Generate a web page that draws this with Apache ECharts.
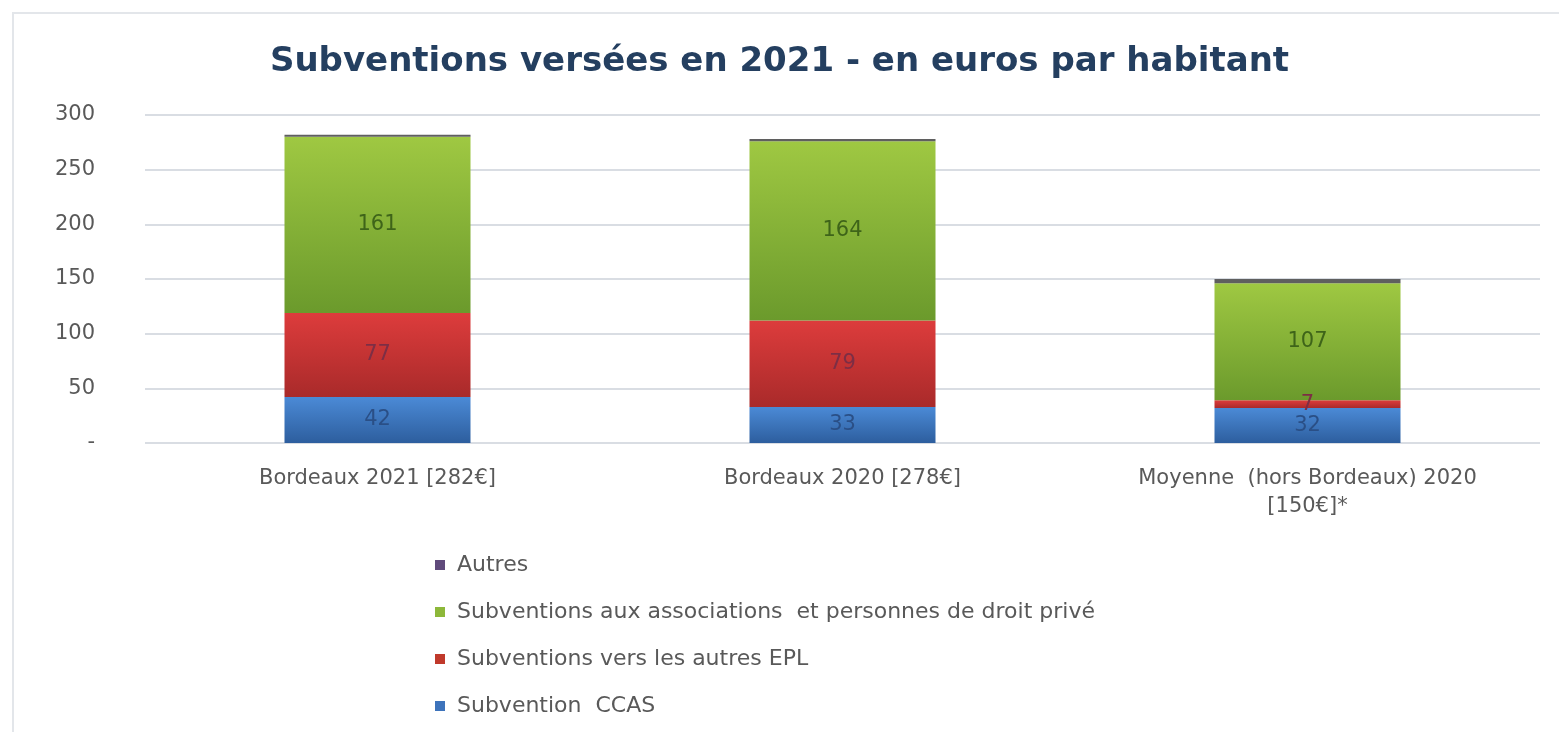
<!DOCTYPE html>
<html>
<head>
<meta charset="utf-8">
<script src="https://cdn.jsdelivr.net/npm/echarts@6/dist/echarts.min.js"></script>
<style>
  html, body { margin: 0; padding: 0; background: #fff; overflow: hidden; }
  #frame { position: absolute; left: 12px; top: 12px; width: 1600px; height: 800px;
    border-top: 2px solid #e3e6ea; border-left: 2px solid #e3e6ea; }
  #chart { position: absolute; left: 0; top: 0; width: 1559px; height: 732px; }
</style>
</head>
<body>
<div id="frame"></div>
<div id="chart"></div>
<script>
// categories and values (euros per habitant)
var categories = ['Bordeaux 2021 [282€]', 'Bordeaux 2020 [278€]', 'Moyenne  (hors Bordeaux) 2020\n[150€]*']
var ccas = [42, 33, 32]
var epl = [77, 79, 7]
var associations = [161, 164, 107]
var autres = [2, 2, 4]
var seriesNames = ['Subvention  CCAS', 'Subventions vers les autres EPL', 'Subventions aux associations  et personnes de droit privé', 'Autres']

var chart = echarts.init(document.getElementById('chart'))

function grad (top, bottom) {
  return new echarts.graphic.LinearGradient(0, 0, 0, 1, [
    { offset: 0, color: top },
    { offset: 1, color: bottom }
  ])
}

var font = 'DejaVu Sans'

chart.setOption({
  textStyle: { fontFamily: font },
  title: {
    text: 'Subventions versées en 2021 - en euros par habitant',
    left: 'center',
    top: 40,
    textStyle: { fontSize: 34, fontWeight: 'bold', color: '#243f60', fontFamily: font }
  },
  legend: {
    orient: 'vertical',
    left: 430,
    top: 549,
    itemWidth: 10,
    itemHeight: 10,
    itemGap: 25,
    icon: 'rect',
    textStyle: { fontSize: 22, color: '#595959', padding: [0, 0, 0, 7] },
    data: [
      { name: seriesNames[3], itemStyle: { color: '#604a7b' } },
      { name: seriesNames[2], itemStyle: { color: '#8db83a' } },
      { name: seriesNames[1], itemStyle: { color: '#c0392b' } },
      { name: seriesNames[0], itemStyle: { color: '#3d73bb' } }
    ]
  },
  grid: { left: 145, right: 19, top: 115, bottom: 289 },
  xAxis: {
    type: 'category',
    data: categories,
    axisLine: { show: false },
    axisTick: { show: false },
    axisLabel: { color: '#595959', fontSize: 21, margin: 22, lineHeight: 28, interval: 0 }
  },
  yAxis: {
    type: 'value',
    min: 0,
    max: 300,
    interval: 50,
    axisLine: { show: false },
    axisTick: { show: false },
    splitLine: { lineStyle: { color: '#d9dde3', width: 2 } },
    axisLabel: {
      color: '#595959',
      fontSize: 21,
      margin: 50,
      formatter: function (v) { return v === 0 ? '-' : v }
    }
  },
  series: [
    {
      name: seriesNames[0],
      type: 'bar',
      stack: 'total',
      barWidth: '40%',
      data: ccas,
      itemStyle: { color: grad('#4b8ad6', '#2d5e9e') },
      label: { show: true, color: '#2a4f86', fontSize: 21 }
    },
    {
      name: seriesNames[1],
      type: 'bar',
      stack: 'total',
      data: epl,
      itemStyle: { color: grad('#dd3c3c', '#a92a2a') },
      label: { show: true, color: '#7d2e45', fontSize: 21 }
    },
    {
      name: seriesNames[2],
      type: 'bar',
      stack: 'total',
      data: associations,
      itemStyle: { color: grad('#9fc842', '#6b9a2c') },
      label: { show: true, color: '#3e6419', fontSize: 21 }
    },
    {
      name: seriesNames[3],
      type: 'bar',
      stack: 'total',
      data: autres,
      itemStyle: { color: '#5f5f5f' },
      label: { show: false }
    }
  ]
})
</script>
</body>
</html>
